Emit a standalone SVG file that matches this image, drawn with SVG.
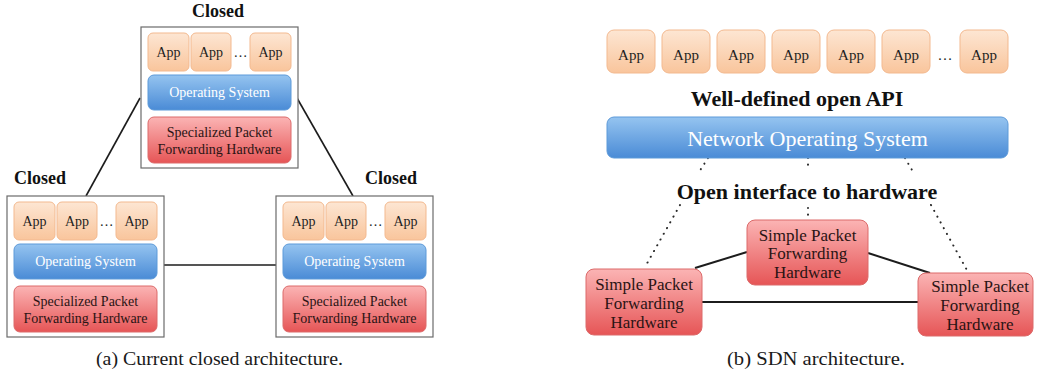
<svg xmlns="http://www.w3.org/2000/svg" width="1039" height="376" viewBox="0 0 1039 376">
  <defs>
    <linearGradient id="gApp" x1="0" y1="0" x2="0" y2="1">
      <stop offset="0" stop-color="#fde6d3"/>
      <stop offset="1" stop-color="#f9c59c"/>
    </linearGradient>
    <linearGradient id="gOs" x1="0" y1="0" x2="0" y2="1">
      <stop offset="0" stop-color="#95c4f0"/>
      <stop offset="1" stop-color="#4a8bd6"/>
    </linearGradient>
    <linearGradient id="gHw" x1="0" y1="0" x2="0" y2="1">
      <stop offset="0" stop-color="#fbb4b4"/>
      <stop offset="1" stop-color="#e65556"/>
    </linearGradient>
    <!-- one closed switch: apps, OS, forwarding hardware inside a frame -->
    <g id="closedStack">
      <rect class="frame" x="0" y="0" width="157" height="141"/>
      <rect class="app" x="7" y="6" width="41" height="38" rx="5"/>
      <rect class="app" x="50" y="6" width="40" height="38" rx="5"/>
      <rect class="app" x="109" y="6" width="41" height="38" rx="5"/>
      <text class="appT" x="27.5" y="30">App</text>
      <text class="appT" x="70" y="30">App</text>
      <text class="appT" x="99.5" y="30">…</text>
      <text class="appT" x="129.5" y="30">App</text>
      <rect class="os" x="7" y="48" width="143" height="35" rx="6"/>
      <text class="osT" x="78.5" y="70">Operating System</text>
      <rect class="hw" x="7" y="90" width="143" height="46" rx="6"/>
      <text class="hwT" x="78.5" y="110">Specialized Packet</text>
      <text class="hwT" x="78.5" y="127">Forwarding Hardware</text>
    </g>
  </defs>
  <style>
    .frame { fill: #ffffff; stroke: #6b6b6b; stroke-width: 1.2; }
    .app { fill: url(#gApp); stroke: #f3b98f; stroke-width: 1; }
    .os { fill: url(#gOs); stroke: #5d9ad9; stroke-width: 1; }
    .hw { fill: url(#gHw); stroke: #dc6a6a; stroke-width: 1; }
    text { font-family: "Liberation Serif", "Times New Roman", serif; text-anchor: middle; }
    .appT { font-size: 14px; fill: #1e1e1e; }
    .osT { font-size: 14px; fill: #ffffff; }
    .hwT { font-size: 14px; fill: #2a1414; }
    .title { font-size: 18px; font-weight: bold; fill: #111; }
    .head { font-size: 22px; font-weight: bold; fill: #111; }
    .sAppT { font-size: 15px; fill: #1e1e1e; }
    .nosT { font-size: 22px; fill: #ffffff; }
    .sHwT { font-size: 17px; fill: #2a1414; }
    .cap { font-size: 19px; fill: #1a1a1a; }
    .solid { stroke: #1c1c1c; fill: none; }
    .dotted { stroke: #2a2a2a; stroke-width: 2; stroke-linecap: round; stroke-dasharray: 0.1 6.5; fill: none; }
  </style>

  <!-- connectors -->
  <g id="connectors">
    <line class="solid" stroke-width="1.6" x1="140" y1="98" x2="86" y2="196"/>
    <line class="solid" stroke-width="1.6" x1="297" y1="98" x2="353" y2="196"/>
    <line class="solid" stroke-width="1.6" x1="164" y1="265" x2="276" y2="265"/>
    <line class="dotted" x1="708" y1="158" x2="699" y2="172"/>
    <line class="dotted" x1="680" y1="205" x2="645" y2="267"/>
    <line class="dotted" x1="808" y1="158" x2="808" y2="170"/>
    <line class="dotted" x1="808" y1="208" x2="808" y2="220"/>
    <line class="dotted" x1="905" y1="158" x2="912" y2="170"/>
    <line class="dotted" x1="931" y1="205" x2="968" y2="272"/>
    <line class="solid" stroke-width="2" x1="695" y1="268" x2="747" y2="252"/>
    <line class="solid" stroke-width="2" x1="868" y1="253" x2="930" y2="273"/>
    <line class="solid" stroke-width="2" x1="702" y1="302" x2="918" y2="302"/>
  </g>

  <!-- (a) closed architecture -->
  <g id="closedTop">
    <text class="title" x="218" y="17">Closed</text>
    <use href="#closedStack" x="141" y="27"/>
  </g>
  <g id="closedLeft">
    <text class="title" x="40" y="184">Closed</text>
    <use href="#closedStack" x="7" y="196"/>
  </g>
  <g id="closedRight">
    <text class="title" x="391" y="184">Closed</text>
    <use href="#closedStack" x="276" y="196"/>
  </g>

  <!-- (b) SDN architecture -->
  <g id="sdnApps">
    <rect class="app" x="607" y="30" width="48" height="43" rx="7"/>
    <rect class="app" x="662" y="30" width="48" height="43" rx="7"/>
    <rect class="app" x="717" y="30" width="48" height="43" rx="7"/>
    <rect class="app" x="772" y="30" width="48" height="43" rx="7"/>
    <rect class="app" x="827" y="30" width="48" height="43" rx="7"/>
    <rect class="app" x="882" y="30" width="48" height="43" rx="7"/>
    <rect class="app" x="960" y="30" width="48" height="43" rx="7"/>
    <text class="sAppT" x="631" y="60">App</text>
    <text class="sAppT" x="686" y="60">App</text>
    <text class="sAppT" x="741" y="60">App</text>
    <text class="sAppT" x="796" y="60">App</text>
    <text class="sAppT" x="851" y="60">App</text>
    <text class="sAppT" x="906" y="60">App</text>
    <text class="sAppT" x="945" y="60">…</text>
    <text class="sAppT" x="984" y="60">App</text>
  </g>
  <text id="apiLabel" class="head" x="797" y="106">Well-defined open API</text>
  <g id="nos">
    <rect class="os" x="607" y="117" width="401" height="41" rx="7"/>
    <text class="nosT" x="807.5" y="146">Network Operating System</text>
  </g>
  <text id="hwLabel" class="head" x="807" y="199">Open interface to hardware</text>
  <g id="hwMiddle">
    <rect class="hw" x="747" y="220" width="121" height="65" rx="8"/>
    <text class="sHwT" x="807.5" y="241">Simple Packet</text>
    <text class="sHwT" x="807.5" y="259">Forwarding</text>
    <text class="sHwT" x="807.5" y="278">Hardware</text>
  </g>
  <g id="hwLeft">
    <rect class="hw" x="586" y="269" width="116" height="66" rx="8"/>
    <text class="sHwT" x="644" y="290">Simple Packet</text>
    <text class="sHwT" x="644" y="309">Forwarding</text>
    <text class="sHwT" x="644" y="328">Hardware</text>
  </g>
  <g id="hwRight">
    <rect class="hw" x="918" y="273" width="115" height="63" rx="8"/>
    <text class="sHwT" x="980" y="292">Simple Packet</text>
    <text class="sHwT" x="980" y="311">Forwarding</text>
    <text class="sHwT" x="980" y="330">Hardware</text>
  </g>

  <!-- captions -->
  <text class="cap" x="219.5" y="365" textLength="247" lengthAdjust="spacingAndGlyphs">(a) Current closed architecture.</text>
  <text class="cap" x="816" y="365" textLength="178" lengthAdjust="spacingAndGlyphs">(b) SDN architecture.</text>
</svg>
